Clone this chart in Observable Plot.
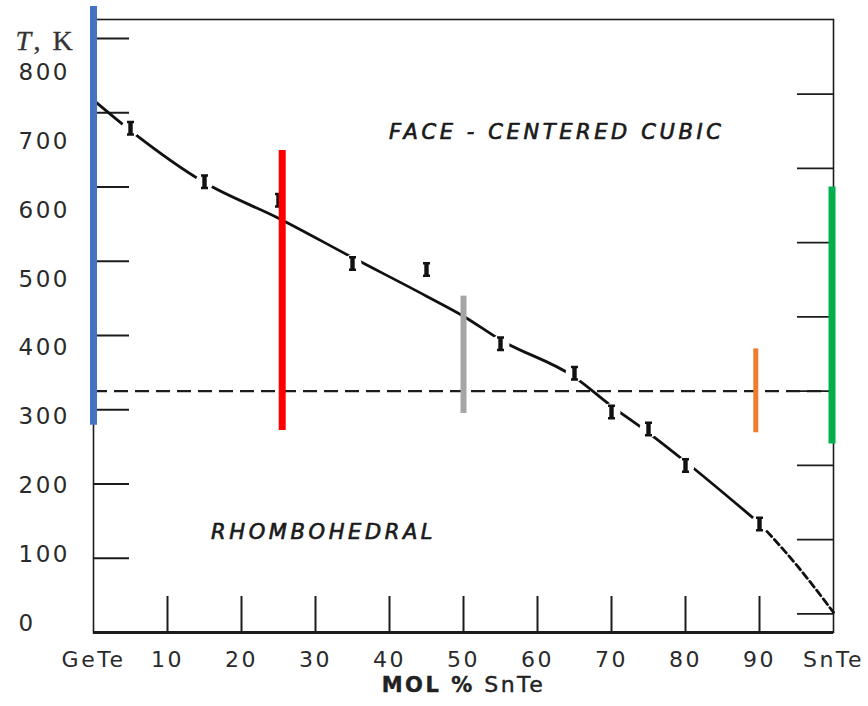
<!DOCTYPE html>
<html><head><meta charset="utf-8">
<script src="https://cdn.jsdelivr.net/npm/d3@7"></script>
<script src="https://cdn.jsdelivr.net/npm/@observablehq/plot@0.6"></script>
<style>
html,body{margin:0;padding:0;background:#fff;}
#wrap{position:relative;width:868px;height:706px;overflow:hidden;background:#fff;}
#wrap svg{position:absolute;left:0;top:0;}
</style></head><body><div id="wrap"></div>
<script>
// ---- data ----
// measured transition temperatures (error-bar markers)
const molPct = [5, 15, 25, 35, 45, 55, 65, 70, 75, 80, 90];
const transT = [679, 607, 582, 497, 489, 389, 349, 297, 274, 225, 146];
// fitted boundary (solid part) and extrapolated part (dashed)
const curveMol = [0, 5, 15, 25, 35, 45, 50, 55, 65, 70, 75, 80, 90];
const curveT = [717, 676, 606, 558, 505, 453, 426, 394, 344, 305, 269, 230, 147];
const extMol = [90, 95, 100];
const extT = [147, 91, 27];
// horizontal dashed reference (room temperature)
const roomT = 325;
// phase-region names
const regionNames = ["FACE - CENTERED CUBIC", "RHOMBOHEDRAL"];
const regionMol = [62.6, 31.1];
const regionT = [674, 135];
// coloured composition markers
const markerMol = [0, 25.5, 50, 89.5, 99.8];
const markerTop = [843, 649, 453, 382, 600];
const markerBottom = [279, 272, 295, 269, 254];
// axis ticks / labels
const xTickVals = [10, 20, 30, 40, 50, 60, 70, 80, 90];
const xLabelVals = [0, 10, 20, 30, 40, 50, 60, 70, 80, 90, 100];
const xEndNames = ["GeTe", "SnTe"];
const leftTickVals = [100, 200, 300, 400, 500, 600, 700, 800];
const rightTickVals = [25, 125, 225, 325, 425, 525, 625, 725];
const yLabelVals = [0, 100, 200, 300, 400, 500, 600, 700, 800];
const tempTop = 825.6;
const yTitle = "T, K";
const xTitle = "MOL % SnTe";

// ---- styles (kept separate from data) ----
const markerColors = ["#4472C4", "#FF0000", "#A5A5A5", "#ED7D31", "#00B050"];
const markerWidths = [7, 7, 6, 5, 7];
const ink = "#1c1c1c";

// ---- tables ----
const points = molPct.map((m, i) => ({mol: m, T: transT[i]}));
const curve = curveMol.map((m, i) => ({mol: m, T: curveT[i]}));
const ext = extMol.map((m, i) => ({mol: m, T: extT[i]}));
const regions = regionNames.map((n, i) => ({name: n, mol: regionMol[i], T: regionT[i]}));
const bars = markerMol.map((m, i) => ({mol: m, top: markerTop[i], bottom: markerBottom[i], color: markerColors[i], w: markerWidths[i]}));

const iBeam = {
  draw(ctx) {
    ctx.rect(-2.2, -7.5, 4.4, 15);
    ctx.rect(-3.5, -7.5, 7, 2.5);
    ctx.rect(-3.5, 5, 7, 2.5);
  }
};

const W = 868, H = 706;
const common = {
  width: W, height: H,
  marginLeft: 93, marginRight: 35
};

const main = Plot.plot({
  ...common,
  marginTop: 19, marginBottom: 74,
  x: {domain: [0, 100], axis: null},
  y: {domain: [0, tempTop], axis: null},
  color: {type: "identity"},
  style: {fontFamily: "DejaVu Sans", fontSize: "22px", letterSpacing: "2.5px", color: "#2a2a2a", background: "transparent", overflow: "visible"},
  marks: [
    Plot.frame({stroke: ink, strokeWidth: 1.6}),
    Plot.ruleY([0], {stroke: ink, strokeWidth: 3}),
    Plot.tickY(leftTickVals, {y: d => d, insetRight: 704, stroke: ink, strokeWidth: 2}),
    Plot.tickY(rightTickVals, {y: d => d, insetLeft: 704, stroke: ink, strokeWidth: 1.8}),
    Plot.tickX(xTickVals, {x: d => d, insetTop: 577, stroke: ink, strokeWidth: 2}),
    Plot.ruleY([roomT], {stroke: ink, strokeWidth: 2.2, strokeDasharray: "14,7"}),
    Plot.line(curve, {x: "mol", y: "T", curve: "monotone-x", stroke: "#111", strokeWidth: 2.8}),
    Plot.line(ext, {x: "mol", y: "T", curve: "monotone-x", stroke: "#111", strokeWidth: 2.8, strokeDasharray: "7,4"}),
    Plot.dot(points, {x: "mol", y: "T", r: 9, fill: "white", stroke: null}),
    Plot.dot(points, {x: "mol", y: "T", symbol: iBeam, fill: "#111", stroke: null}),
    Plot.text(regions, {x: "mol", y: "T", text: "name", fontStyle: "italic", fontSize: 21, fill: "#1a1a1a", stroke: "#1a1a1a", strokeWidth: 0.7}),
    Plot.ruleX(bars, {x: "mol", y1: "bottom", y2: "top", stroke: "color", strokeWidth: "w"}),
    Plot.axisX({ticks: xLabelVals, tickSize: 0, tickPadding: 19, label: null, fontSize: 22, stroke: "#2a2a2a", strokeWidth: 0.5,
      tickFormat: d => d === 0 ? xEndNames[0] : d === 100 ? xEndNames[1] : String(d)}),
    Plot.text([yTitle], {text: d => d, frameAnchor: "top-left", dx: -78, dy: 11, textAnchor: "start", fontFamily: "Liberation Serif", fontSize: 28, fill: "#333", stroke: "#333", strokeWidth: 0.3}),
    Plot.text([xTitle], {text: d => d, frameAnchor: "bottom", dy: 59, fontSize: 21, fill: "#222", stroke: "#222", strokeWidth: 0.4})
  ]
});

const labels = Plot.plot({
  ...common,
  marginTop: 72, marginBottom: 83,
  x: {domain: [0, 100], axis: null},
  y: {domain: [0, 800], axis: null},
  style: {fontFamily: "DejaVu Sans", fontSize: "23px", letterSpacing: "2.5px", color: "#2a2a2a", background: "transparent"},
  marks: [
    Plot.axisY({ticks: yLabelVals, tickSize: 0, textAnchor: "start", dx: -66, label: null, fontSize: 23, stroke: "#2a2a2a", strokeWidth: 0.5})
  ]
});

const wrap = document.getElementById("wrap");
wrap.appendChild(main);
wrap.appendChild(labels);

// text styling touches
d3.select(main).selectAll("text").each(function () {
  const t = this.textContent;
  const s = d3.select(this);
  if (t === yTitle) {
    s.text(null);
    s.append("tspan").attr("font-style", "italic").text("T");
    s.append("tspan").text(", K");
  } else if (t === xTitle) {
    s.text(null);
    s.append("tspan").attr("font-weight", "bold").text("MOL %");
    s.append("tspan").attr("font-size", 22).text(" SnTe");
  } else if (regionNames.includes(t)) {
    s.attr("letter-spacing", 3.6);
  }
});
</script>
</body></html>
